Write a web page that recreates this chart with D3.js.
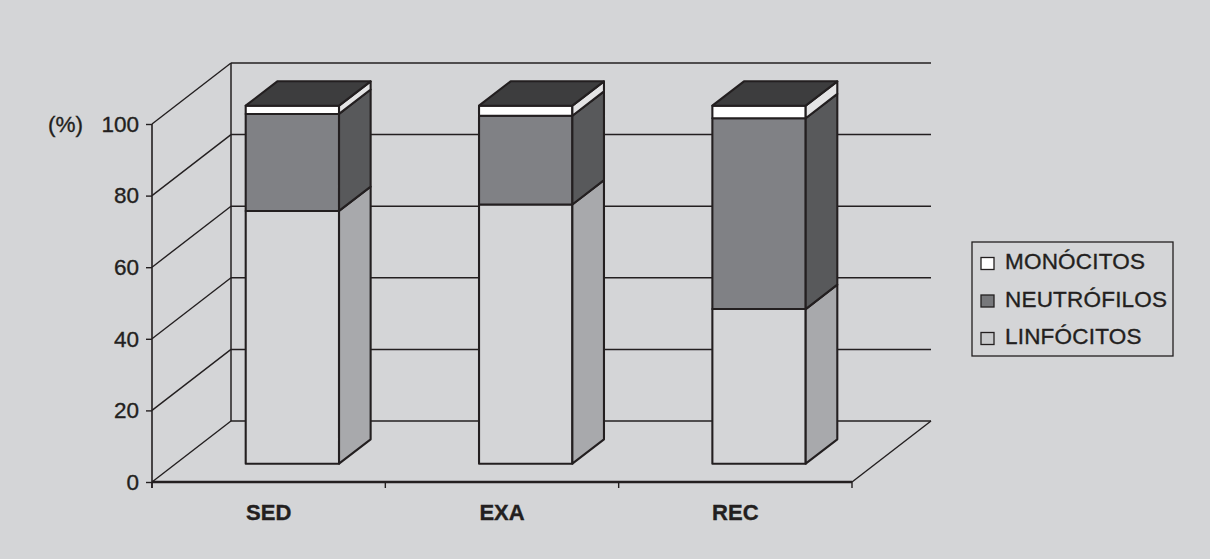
<!DOCTYPE html>
<html>
<head>
<meta charset="utf-8">
<script src="https://cdn.jsdelivr.net/npm/d3@7"></script>
<style>
  html, body { margin: 0; padding: 0; background: #d4d5d7; }
  svg { display: block; }
  text { font-family: Arial, "Liberation Sans", Helvetica, sans-serif; fill: #231f20; stroke: #231f20; stroke-width: 0.35; }
</style>
</head>
<body>
<svg id="chart" width="1210" height="559"></svg>
<script>
// Leukocyte differential (%) per group
const categories = ["SED", "EXA", "REC"];
const seriesNames = ["LINFÓCITOS", "NEUTRÓFILOS", "MONÓCITOS"]; // stacking order, bottom to top
const linfocitos  = [70.6, 72.4, 43.2];
const neutrofilos = [27.1, 24.8, 53.3];
const monocitos   = [2.3, 2.8, 3.5];
const yTicks = [0, 20, 40, 60, 80, 100];
const legendOrder = ["MONÓCITOS", "NEUTRÓFILOS", "LINFÓCITOS"];

const ink = "#231f20";
const bg = "#d4d5d7";
// face colours per series: front, side
const faces = {
  "LINFÓCITOS":  { front: "#d4d5d7", side: "#a8a9ac", swatch: "#c9cacc" },
  "NEUTRÓFILOS": { front: "#808185", side: "#58595b", swatch: "#77787b" },
  "MONÓCITOS":   { front: "#ffffff", side: "#e4e4e5", swatch: "#ffffff" }
};
const topFace = "#3d3d3e";

const svg = d3.select("#chart");
svg.append("rect").attr("width", 1210).attr("height", 559).attr("fill", bg);

// plot geometry: front plane and depth offset
const x0 = 152, x1 = 852;
const DX = 79, DY = 61;           // full depth of the 3D box
const proj = (x, y, d) => [x + d * DX, y - d * DY];

const y = d3.scaleLinear().domain([0, 100]).range([482, 124]);
const xBand = d3.scaleBand().domain(categories).range([x0, x1]).paddingInner(0.6).paddingOuter(0.3);
const xCat = d3.scaleBand().domain(categories).range([x0, x1]).padding(0);

const grid = svg.append("g").attr("stroke", ink).attr("fill", "none");

// back wall gridlines and left wall diagonals
yTicks.forEach(v => {
  const [bx, by] = proj(x0, y(v), 1);
  const [ex] = proj(x1, y(v), 1);
  grid.append("line").attr("x1", bx).attr("y1", by).attr("x2", ex).attr("y2", by).attr("stroke-width", 1.5);
  grid.append("line").attr("x1", x0).attr("y1", y(v)).attr("x2", bx).attr("y2", by).attr("stroke-width", 1.4);
});
// back wall left edge
{
  const [bx, by0] = proj(x0, y(0), 1);
  const [, by1] = proj(x0, y(100), 1);
  grid.append("line").attr("x1", bx).attr("y1", by0).attr("x2", bx).attr("y2", by1).attr("stroke-width", 1.5);
  // floor right edge
  const [fx, fy] = proj(x1, y(0), 1);
  grid.append("line").attr("x1", x1).attr("y1", y(0)).attr("x2", fx).attr("y2", fy).attr("stroke-width", 1.4);
}

// value axis
const yAxis = svg.append("g")
  .attr("transform", `translate(${x0},0)`)
  .call(d3.axisLeft(y).tickValues(yTicks).tickSize(6).tickPadding(7).tickFormat(d3.format("d")));
yAxis.select(".domain").attr("stroke", ink).attr("stroke-width", 1.6).attr("d", `M0,${y(0) + 6}V${y(100)}`);
yAxis.selectAll(".tick line").attr("stroke", ink).attr("stroke-width", 1.4);
yAxis.selectAll(".tick text").attr("font-size", 22.5).attr("fill", ink)
  .attr("font-family", "Arial, 'Liberation Sans', sans-serif");

svg.append("text").attr("x", 48).attr("y", y(100)).attr("dy", "0.35em")
  .attr("font-size", 22.5).text("(%)");

// category axis
svg.append("line").attr("x1", x0).attr("y1", y(0)).attr("x2", x1).attr("y2", y(0))
  .attr("stroke", ink).attr("stroke-width", 2.4);
const bounds = categories.map(c => xCat(c)).concat([x1]);
bounds.forEach(bx => {
  svg.append("line").attr("x1", bx).attr("y1", y(0)).attr("x2", bx).attr("y2", y(0) + 6)
    .attr("stroke", ink).attr("stroke-width", 1.4);
});
const xAxis = svg.append("g")
  .attr("transform", `translate(0,${y(0)})`)
  .call(d3.axisBottom(xCat).tickSize(0).tickPadding(22));
xAxis.select(".domain").remove();
xAxis.selectAll(".tick text").attr("font-size", 22).attr("font-weight", "bold").attr("fill", ink)
  .attr("font-family", "Arial, 'Liberation Sans', sans-serif");

// stacked 3D columns
const table = categories.map((c, i) => ({
  cat: c, "LINFÓCITOS": linfocitos[i], "NEUTRÓFILOS": neutrofilos[i], "MONÓCITOS": monocitos[i]
}));
const stack = d3.stack().keys(seriesNames)(table);

const dFront = 0.3, dBack = 0.7;
const bars = svg.append("g").attr("stroke", ink).attr("stroke-linejoin", "round");

categories.forEach((c, i) => {
  const g = bars.append("g");
  const xl = xBand(c), xr = xBand(c) + xBand.bandwidth();
  stack.forEach(layer => {
    const [v0, v1] = layer[i];
    const col = faces[layer.key];
    const [fl, fy0] = proj(xl, y(v0), dFront);
    const [fr, fy1] = proj(xr, y(v1), dFront);
    g.append("rect").attr("x", fl).attr("y", fy1).attr("width", fr - fl).attr("height", fy0 - fy1)
      .attr("fill", col.front).attr("stroke-width", 2.1);
    const [sx0, sy0] = proj(xr, y(v0), dBack);
    const [sx1, sy1] = proj(xr, y(v1), dBack);
    g.append("path")
      .attr("d", `M${fr},${fy0}L${fr},${fy1}L${sx1},${sy1}L${sx0},${sy0}Z`)
      .attr("fill", col.side).attr("stroke-width", 2.1);
  });
  // top face of the stack
  const top = stack[stack.length - 1][i][1];
  const a = proj(xl, y(top), dFront), b = proj(xr, y(top), dFront);
  const cc = proj(xr, y(top), dBack), d = proj(xl, y(top), dBack);
  g.append("path").attr("d", `M${a}L${b}L${cc}L${d}Z`)
    .attr("fill", topFace).attr("stroke-width", 2.1);
});

// legend
const legend = svg.append("g").attr("transform", "translate(972,242)");
legend.append("rect").attr("width", 201).attr("height", 114)
  .attr("fill", bg).attr("stroke", ink).attr("stroke-width", 1.3);
legendOrder.forEach((name, k) => {
  const row = legend.append("g").attr("transform", `translate(0,${27 + k * 37.5})`);
  row.append("rect").attr("x", 9).attr("y", -11.5).attr("width", 13).attr("height", 12)
    .attr("fill", faces[name].swatch).attr("stroke", ink).attr("stroke-width", 1.3);
  row.append("text").attr("x", 33).attr("y", 0).attr("font-size", 22.5)
    .attr("letter-spacing", 0.2).text(name);
});
</script>
</body>
</html>
